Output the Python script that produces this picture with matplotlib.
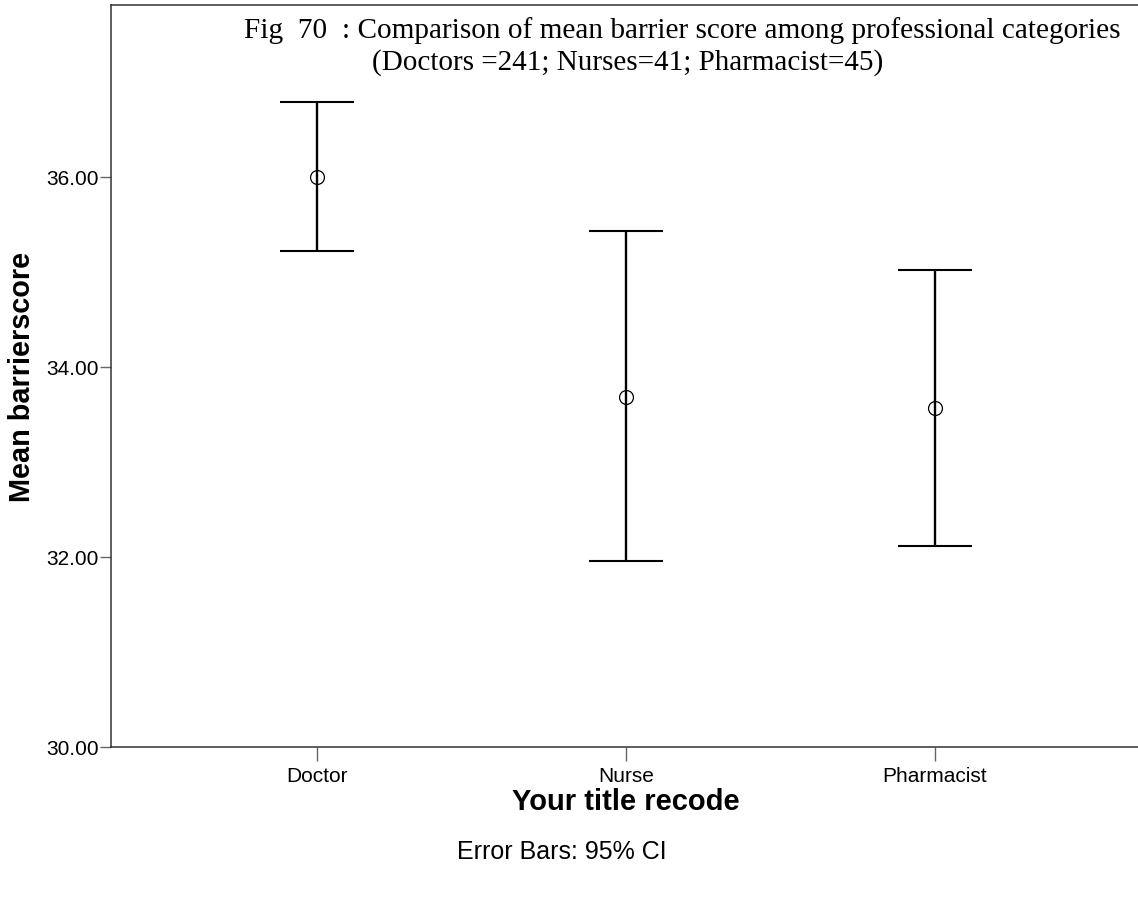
import matplotlib.pyplot as plt

# values
categories = ["Doctor", "Nurse", "Pharmacist"]
mean_score = [36.00, 33.69, 33.57]
ci_lower = [35.22, 31.96, 32.12]
ci_upper = [36.79, 35.43, 35.02]

y_ticks = [30.0, 32.0, 34.0, 36.0]
y_tick_labels = ["30.00", "32.00", "34.00", "36.00"]

W, H = 1138, 909

fig = plt.figure(figsize=(W / 100, H / 100), dpi=100)
ax = fig.add_axes([111 / W, 1 - 747.3 / H, 1 - 111 / W, (747.3 - 5) / H])

x_pos = list(range(len(categories)))
err_low = [m - lo for m, lo in zip(mean_score, ci_lower)]
err_high = [hi - m for m, hi in zip(mean_score, ci_upper)]

ax.errorbar(
    x_pos, mean_score, yerr=[err_low, err_high],
    fmt="none", ecolor="black", elinewidth=1.7,
    capsize=26.5, capthick=1.5, zorder=2
)
ax.plot(
    x_pos, mean_score, linestyle="none", marker="o",
    markersize=10, markerfacecolor="none",
    markeredgecolor="black", markeredgewidth=0.9, zorder=3
)

ax.set_xlim(-0.667, 2.658)
ax.set_ylim(30.0, 37.81)

ax.set_xticks(x_pos)
ax.set_xticklabels(categories, family="Liberation Sans", fontsize=15)
ax.set_yticks(y_ticks)
ax.set_yticklabels(y_tick_labels, family="Liberation Sans", fontsize=15)

ax.tick_params(axis="y", direction="out", length=8, width=1.0,
               color="#666666", pad=1)
ax.tick_params(axis="x", direction="out", length=10, width=1.0,
               color="#666666", pad=4)

for side in ["left", "bottom", "top"]:
    ax.spines[side].set_color("#333333")
    ax.spines[side].set_linewidth(1.1)
ax.spines["right"].set_visible(False)

fig.text(22 / W, 1 - 377 / H, "Mean barrierscore", rotation=90,
         ha="center", va="center", family="Liberation Sans",
         fontweight="bold", fontsize=20.8)
fig.text(626 / W, 1 - 802 / H, "Your title recode",
         ha="center", va="center", family="Liberation Sans",
         fontweight="bold", fontsize=21)
fig.text(562 / W, 1 - 852 / H, "Error Bars: 95% CI",
         ha="center", va="center", family="Liberation Sans",
         fontsize=18)

fig.text(244 / W, 1 - 31 / H,
         "Fig  70  : Comparison of mean barrier score among professional categories",
         ha="left", va="center", family="Liberation Serif", fontsize=21.1)
fig.text(372 / W, 1 - 63 / H,
         "(Doctors =241; Nurses=41; Pharmacist=45)",
         ha="left", va="center", family="Liberation Serif", fontsize=21)

fig.savefig("out.png", dpi=100)
